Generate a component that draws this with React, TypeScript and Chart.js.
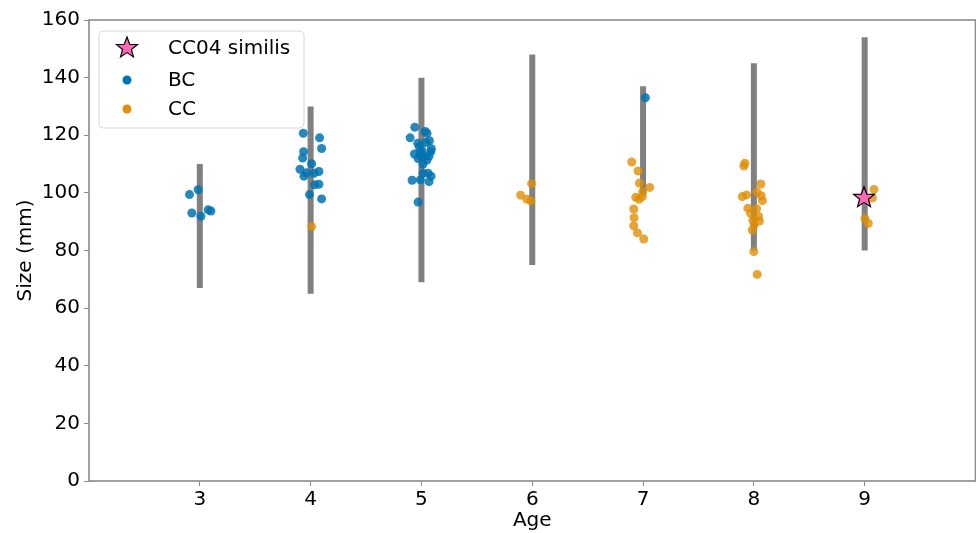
import React, { useEffect, useRef } from "react";
import { Chart, registerables } from "chart.js";

Chart.register(...registerables);

// Age categories / tick values
const xTicks = [3, 4, 5, 6, 7, 8, 9];
const yTicks = [0, 20, 40, 60, 80, 100, 120, 140, 160];

// Size range bars per age
const rangeAge = [3, 4, 5, 6, 7, 8, 9];
const rangeLow = [67, 65, 69, 75, 99, 80, 80];
const rangeHigh = [110, 130, 140, 148, 137, 145, 154];

// BC individuals (jittered age, size)
const bcX = [
  2.985, 2.907, 2.928, 3.01, 3.075, 3.1,
  3.934, 4.081, 4.099, 3.937, 3.928, 4.009, 3.904, 3.961, 3.94, 4.03, 4.075, 4.036, 4.075, 3.99, 4.099,
  4.94, 5.033, 5.072, 4.898, 4.967, 5.05, 5.09, 4.937, 4.97, 5.006, 5.027, 5.069, 5.05, 5.015, 4.997, 4.99, 5.084,
  5.015, 5.06, 5.087, 4.916, 4.99, 5.069, 4.97, 5.04, 4.98,
  7.021,
];
const bcY = [
  101.1, 99.4, 93.0, 91.9, 94.1, 93.7,
  120.7, 119.1, 115.4, 114.3, 112.1, 110.1, 108.2, 107.0, 105.8, 106.8, 107.4, 102.8, 103.0, 99.4, 97.9,
  122.8, 121.3, 118.1, 119.1, 117.2, 120.7, 115.3, 113.5, 111.9, 114.6, 112.6, 112.8, 111.4, 110.0, 112.6, 114.0, 114.3,
  106.8, 106.8, 105.8, 104.4, 104.5, 103.9, 96.8, 117.5, 116.0,
  133.0,
];

// CC individuals (jittered age, size)
const ccX = [
  4.009,
  5.994, 5.895, 5.952, 5.988,
  6.898, 6.955, 6.967, 7.06, 6.997, 6.934, 6.964, 6.994, 6.916, 6.919, 6.916, 6.949, 7.006,
  7.919, 7.91, 8.063, 8.027, 7.895, 7.934, 8.066, 8.078, 7.946, 8.024, 7.97, 8.042, 7.991, 8.051, 8.003, 7.985, 8.0, 8.03,
  9.084, 9.069, 9.003, 9.033,
];
const ccY = [
  88.3,
  103.2, 99.2, 97.8, 97.2,
  110.7, 107.6, 103.4, 101.9, 100.4, 98.5, 97.8, 98.7, 94.4, 91.4, 88.6, 86.1, 84.0,
  110.3, 109.3, 103.1, 100.3, 98.7, 99.3, 99.0, 97.3, 94.7, 94.5, 92.9, 91.8, 90.4, 90.2, 88.9, 87.1, 79.6, 71.7,
  101.2, 98.2, 91.0, 89.4,
];

// CC04 similis specimen
const starX = [8.994];
const starY = [98.3];

const FONT = "'DejaVu Sans', sans-serif";
const BLUE = "rgba(1,115,178,0.85)";
const ORANGE = "rgba(222,143,5,0.8)";
const PINK = "#ff69b4";
const FRAME = "#8a8a8a";

const zip = (xs: number[], ys: number[]) => xs.map((x, i) => ({ x, y: ys[i] }));

function drawStar(ctx: CanvasRenderingContext2D, cx: number, cy: number, R: number, r: number) {
  ctx.save();
  ctx.beginPath();
  for (let i = 0; i < 10; i++) {
    const rad = i % 2 === 0 ? R : r;
    const a = -Math.PI / 2 + (i * Math.PI) / 5;
    const px = cx + rad * Math.cos(a);
    const py = cy + rad * Math.sin(a);
    if (i === 0) ctx.moveTo(px, py);
    else ctx.lineTo(px, py);
  }
  ctx.closePath();
  ctx.fillStyle = PINK;
  ctx.fill();
  ctx.strokeStyle = "#000";
  ctx.lineWidth = 1.2;
  ctx.stroke();
  ctx.restore();
}

const frameAndLegend = {
  id: "frameAndLegend",
  afterDraw(chart: any) {
    const { ctx, chartArea } = chart;
    const { left, top, right, bottom } = chartArea;
    ctx.save();
    ctx.strokeStyle = FRAME;
    ctx.lineWidth = 1.6;
    ctx.strokeRect(left, top, right - left, bottom - top);
    const bx = left + 10, by = top + 11, bw = 205, bh = 97, r = 5;
    ctx.beginPath();
    ctx.moveTo(bx + r, by);
    ctx.lineTo(bx + bw - r, by);
    ctx.quadraticCurveTo(bx + bw, by, bx + bw, by + r);
    ctx.lineTo(bx + bw, by + bh - r);
    ctx.quadraticCurveTo(bx + bw, by + bh, bx + bw - r, by + bh);
    ctx.lineTo(bx + r, by + bh);
    ctx.quadraticCurveTo(bx, by + bh, bx, by + bh - r);
    ctx.lineTo(bx, by + r);
    ctx.quadraticCurveTo(bx, by, bx + r, by);
    ctx.closePath();
    ctx.fillStyle = "rgba(255,255,255,0.8)";
    ctx.fill();
    ctx.strokeStyle = "#d6d6d6";
    ctx.lineWidth = 1;
    ctx.stroke();

    const mx = bx + 28;
    const tx = bx + 69;
    const rows = [by + 17, by + 49, by + 78];
    drawStar(ctx, mx, rows[0], 11, 4.6);
    ctx.fillStyle = "rgb(1,115,178)";
    ctx.beginPath();
    ctx.arc(mx, rows[1], 4.5, 0, Math.PI * 2);
    ctx.fill();
    ctx.fillStyle = "rgb(222,143,5)";
    ctx.beginPath();
    ctx.arc(mx, rows[2], 4.5, 0, Math.PI * 2);
    ctx.fill();

    ctx.fillStyle = "#000";
    ctx.font = `20px ${FONT}`;
    ctx.textBaseline = "middle";
    ctx.textAlign = "left";
    ctx.fillText("CC04 similis", tx, rows[0] + 1);
    ctx.fillText("BC", tx, rows[1] + 1);
    ctx.fillText("CC", tx, rows[2] + 1);
    ctx.restore();
  },
};

export default function App() {
  const ref = useRef<HTMLCanvasElement | null>(null);

  useEffect(() => {
    if (!ref.current) return;
    const rangeSets = rangeAge.map((a, i) => ({
      type: "line" as const,
      label: `range-${a}`,
      data: [
        { x: a, y: rangeLow[i] },
        { x: a, y: rangeHigh[i] },
      ],
      showLine: true,
      borderColor: "#808080",
      borderWidth: 6,
      borderCapStyle: "butt" as const,
      pointRadius: 0,
      pointHoverRadius: 0,
      order: 10,
    }));

    const chart = new Chart(ref.current, {
      type: "scatter",
      data: {
        datasets: [
          {
            label: "CC04 similis",
            data: zip(starX, starY),
            pointStyle: "star",
            pointRadius: 0,
            backgroundColor: PINK,
            borderColor: "#000",
            order: 0,
          } as any,
          {
            label: "BC",
            data: zip(bcX, bcY),
            backgroundColor: BLUE,
            borderColor: "rgba(0,0,0,0)",
            borderWidth: 0,
            pointRadius: 4.5,
            order: 1,
          },
          {
            label: "CC",
            data: zip(ccX, ccY),
            backgroundColor: ORANGE,
            borderColor: "rgba(0,0,0,0)",
            borderWidth: 0,
            pointRadius: 4.5,
            order: 2,
          },
          ...rangeSets,
        ],
      },
      options: {
        animation: false,
        responsive: true,
        maintainAspectRatio: false,
        layout: { padding: { top: 20, right: 0, left: 0, bottom: 0 } },
        plugins: {
          legend: { display: false },
          tooltip: { enabled: false },
        },
        scales: {
          x: {
            type: "linear",
            min: 2.0,
            max: 10.0,
            afterBuildTicks: (s: any) => {
              s.ticks = xTicks.map((v) => ({ value: v }));
            },
            afterFit: (s: any) => {
              s.height = 52;
            },
            grid: {
              drawOnChartArea: false,
              drawTicks: true,
              tickLength: 5,
              color: FRAME,
            },
            border: { display: false },
            ticks: {
              color: "#000",
              font: { family: FONT, size: 20 },
              padding: 2,
              maxRotation: 0,
              callback: (v: any) => String(v),
            },
            title: {
              display: true,
              text: "Age",
              color: "#000",
              font: { family: FONT, size: 20 },
              padding: { top: 0, bottom: 0 },
            },
          },
          y: {
            min: 0,
            max: 160,
            afterBuildTicks: (s: any) => {
              s.ticks = yTicks.map((v) => ({ value: v }));
            },
            afterFit: (s: any) => {
              s.width = 89;
            },
            grid: {
              drawOnChartArea: false,
              drawTicks: true,
              tickLength: 5,
              color: FRAME,
            },
            border: { display: false },
            ticks: {
              color: "#000",
              font: { family: FONT, size: 20 },
              padding: 4,
            },
            title: {
              display: true,
              text: "Size (mm)",
              color: "#000",
              font: { family: FONT, size: 20 },
              padding: { top: 14, bottom: 0 },
            },
          },
        },
      },
      plugins: [
        {
          id: "starOnTop",
          afterDatasetsDraw(chart: any) {
            const xs = chart.scales.x;
            const ys = chart.scales.y;
            starX.forEach((x, i) => {
              drawStar(chart.ctx, xs.getPixelForValue(x), ys.getPixelForValue(starY[i]), 11, 4.6);
            });
          },
        },
        frameAndLegend,
      ],
    });
    return () => chart.destroy();
  }, []);

  return (
    <div style={{ position: "fixed", left: 0, top: 0, width: 980, height: 533, background: "#fff", overflow: "hidden" }}>
      <canvas ref={ref} />
    </div>
  );
}
